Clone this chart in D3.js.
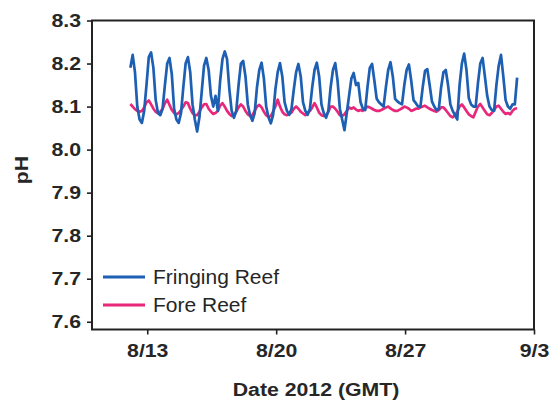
<!DOCTYPE html>
<html>
<head>
<meta charset="utf-8">
<script src="https://cdn.jsdelivr.net/npm/d3@7"></script>
<style>
  body { margin: 0; background: #fff; }
  text { font-family: "Liberation Sans", Arial, Helvetica, sans-serif; fill: #262626; }
</style>
</head>
<body>
<div id="chart"></div>
<script>
// pH readings, one every 3 hours from 8/12 02:00 GMT (8 per day, 02h..23h)
const sampleStart = '2012-08-12T02:00:00Z';
const sampleStepHours = 3;

const fringingReef = [
  8.190, 8.220, 8.180, 8.100, 8.070, 8.062, 8.090, 8.150, // 8/12
  8.215, 8.226, 8.190, 8.115, 8.085, 8.080, 8.095, 8.150, // 8/13
  8.200, 8.213, 8.175, 8.095, 8.070, 8.062, 8.085, 8.145, // 8/14
  8.200, 8.215, 8.180, 8.105, 8.070, 8.042, 8.075, 8.135, // 8/15
  8.195, 8.213, 8.185, 8.125, 8.100, 8.125, 8.090, 8.160, // 8/16
  8.210, 8.228, 8.210, 8.140, 8.090, 8.074, 8.090, 8.150, // 8/17
  8.200, 8.206, 8.170, 8.105, 8.080, 8.067, 8.085, 8.145, // 8/18
  8.185, 8.202, 8.165, 8.100, 8.075, 8.061, 8.080, 8.140, // 8/19
  8.180, 8.201, 8.170, 8.110, 8.090, 8.081, 8.095, 8.140, // 8/20
  8.180, 8.199, 8.170, 8.110, 8.090, 8.081, 8.095, 8.145, // 8/21
  8.185, 8.202, 8.170, 8.105, 8.085, 8.074, 8.090, 8.145, // 8/22
  8.185, 8.201, 8.160, 8.095, 8.070, 8.045, 8.085, 8.125, // 8/23
  8.165, 8.178, 8.150, 8.155, 8.110, 8.095, 8.092, 8.145, // 8/24
  8.190, 8.199, 8.160, 8.118, 8.110, 8.105, 8.100, 8.145, // 8/25
  8.185, 8.203, 8.170, 8.118, 8.112, 8.108, 8.105, 8.150, // 8/26
  8.185, 8.198, 8.160, 8.115, 8.108, 8.100, 8.100, 8.145, // 8/27
  8.183, 8.187, 8.150, 8.112, 8.100, 8.092, 8.095, 8.145, // 8/28
  8.180, 8.185, 8.150, 8.105, 8.090, 8.080, 8.070, 8.150, // 8/29
  8.200, 8.223, 8.185, 8.120, 8.105, 8.100, 8.100, 8.155, // 8/30
  8.200, 8.213, 8.170, 8.125, 8.100, 8.092, 8.090, 8.150, // 8/31
  8.195, 8.220, 8.170, 8.115, 8.100, 8.095, 8.105, 8.105, // 9/1
  8.167                                                   // 9/2
];

const foreReef = [
  8.106, 8.100, 8.094, 8.090, 8.088, 8.090, 8.098, 8.110, // 8/12
  8.114, 8.105, 8.095, 8.088, 8.085, 8.088, 8.095, 8.108, // 8/13
  8.116, 8.104, 8.092, 8.085, 8.082, 8.085, 8.092, 8.100, // 8/14
  8.110, 8.108, 8.095, 8.085, 8.080, 8.080, 8.088, 8.098, // 8/15
  8.105, 8.106, 8.095, 8.088, 8.083, 8.085, 8.090, 8.102, // 8/16
  8.108, 8.100, 8.090, 8.083, 8.078, 8.080, 8.088, 8.098, // 8/17
  8.105, 8.100, 8.090, 8.082, 8.078, 8.080, 8.090, 8.100, // 8/18
  8.104, 8.098, 8.088, 8.080, 8.076, 8.078, 8.088, 8.100, // 8/19
  8.116, 8.100, 8.088, 8.082, 8.080, 8.083, 8.086, 8.095, // 8/20
  8.100, 8.095, 8.088, 8.084, 8.080, 8.085, 8.090, 8.098, // 8/21
  8.108, 8.098, 8.086, 8.080, 8.078, 8.080, 8.088, 8.100, // 8/22
  8.100, 8.095, 8.088, 8.080, 8.078, 8.082, 8.090, 8.098, // 8/23
  8.095, 8.098, 8.093, 8.090, 8.092, 8.090, 8.095, 8.100, // 8/24
  8.098, 8.095, 8.092, 8.090, 8.090, 8.092, 8.095, 8.098, // 8/25
  8.100, 8.096, 8.092, 8.090, 8.090, 8.093, 8.096, 8.100, // 8/26
  8.098, 8.095, 8.090, 8.092, 8.095, 8.095, 8.098, 8.100, // 8/27
  8.102, 8.098, 8.095, 8.092, 8.090, 8.088, 8.092, 8.098, // 8/28
  8.098, 8.092, 8.085, 8.078, 8.075, 8.080, 8.088, 8.100, // 8/29
  8.105, 8.098, 8.090, 8.082, 8.078, 8.075, 8.088, 8.100, // 8/30
  8.106, 8.098, 8.090, 8.082, 8.080, 8.085, 8.092, 8.100, // 8/31
  8.102, 8.095, 8.088, 8.083, 8.085, 8.082, 8.090, 8.095, // 9/1
  8.096                                                   // 9/2
];

const seriesNames = ['Fringing Reef', 'Fore Reef'];
const seriesColors = ['#1d5fb3', '#e8297b'];
const yTickValues = [7.6, 7.7, 7.8, 7.9, 8.0, 8.1, 8.2, 8.3];
const xTickDates = ['2012-08-13', '2012-08-20', '2012-08-27', '2012-09-03'];
const xDomain = ['2012-08-10', '2012-09-03'];
const yDomain = [7.582, 8.3];

const width = 555;
const height = 406;
const margin = { top: 20.5, right: 21, bottom: 76.5, left: 92 };
const stretch = 1.12; // text in the source figure is slightly wide

const svg = d3.select('#chart').append('svg')
  .attr('width', width)
  .attr('height', height);

const x = d3.scaleUtc()
  .domain(xDomain.map(d => new Date(d + 'T00:00:00Z')))
  .range([margin.left, width - margin.right]);

const y = d3.scaleLinear()
  .domain(yDomain)
  .range([height - margin.bottom, margin.top]);

function toPoints(values) {
  const t0 = new Date(sampleStart).getTime();
  return values.map((v, i) => ({ date: new Date(t0 + i * sampleStepHours * 3600e3), value: v }));
}

const series = [fringingReef, foreReef].map((vals, i) => ({
  name: seriesNames[i],
  color: seriesColors[i],
  points: toPoints(vals),
}));

// Axes
const xAxis = d3.axisBottom(x)
  .tickValues(xTickDates.map(d => new Date(d + 'T00:00:00Z')))
  .tickFormat(d3.utcFormat('%-m/%-d'))
  .tickSize(5)
  .tickSizeOuter(0)
  .tickPadding(9);

const yAxis = d3.axisLeft(y)
  .tickValues(yTickValues)
  .tickFormat(d3.format('.1f'))
  .tickSize(5)
  .tickSizeOuter(0)
  .tickPadding(6);

const gx = svg.append('g')
  .attr('transform', `translate(0, ${height - margin.bottom})`)
  .call(xAxis);

const gy = svg.append('g')
  .attr('transform', `translate(${margin.left}, 0)`)
  .call(yAxis);

[gx, gy].forEach(g => {
  g.select('.domain').remove();
  g.selectAll('.tick line').attr('stroke', '#222').attr('stroke-width', 1.6);
  g.selectAll('.tick text')
    .attr('font-size', 19)
    .attr('font-weight', 'bold')
    .style('font-family', '"Liberation Sans", Arial, sans-serif')
    .attr('fill', '#262626');
});

// stretch tick labels horizontally around their anchor
gx.selectAll('.tick text').each(function () {
  const t = d3.select(this);
  t.attr('transform', `translate(0, ${t.attr('y')}) scale(${stretch}, 1)`).attr('y', 0)
    .attr('dy', '0.71em');
});
gy.selectAll('.tick text').each(function () {
  const t = d3.select(this);
  t.attr('transform', `translate(${t.attr('x')}, 0) scale(${stretch}, 1)`).attr('x', 0);
});

// Lines
const line = d3.line()
  .x(d => x(d.date))
  .y(d => y(d.value));

svg.append('g')
  .selectAll('path')
  .data(series.slice().reverse())
  .join('path')
  .attr('fill', 'none')
  .attr('stroke', d => d.color)
  .attr('stroke-width', 2.7)
  .attr('stroke-linejoin', 'round')
  .attr('d', d => line(d.points));

// Frame
svg.append('rect')
  .attr('x', margin.left)
  .attr('y', margin.top)
  .attr('width', width - margin.left - margin.right)
  .attr('height', height - margin.top - margin.bottom)
  .attr('fill', 'none')
  .attr('stroke', '#222')
  .attr('stroke-width', 2);

// Axis titles
svg.append('text')
  .attr('transform', `translate(${(margin.left + width - margin.right) / 2 + 3}, 396) scale(${stretch}, 1)`)
  .attr('text-anchor', 'middle')
  .attr('font-size', 19)
  .attr('font-weight', 'bold')
  .text('Date 2012 (GMT)');

svg.append('text')
  .attr('transform', `translate(28, 170) rotate(-90) scale(${stretch}, 1)`)
  .attr('text-anchor', 'middle')
  .attr('font-size', 19)
  .attr('font-weight', 'bold')
  .text('pH');

// Legend
const legend = svg.append('g')
  .selectAll('g')
  .data(series)
  .join('g')
  .attr('transform', (d, i) => `translate(103, ${277 + i * 28})`);

legend.append('line')
  .attr('x1', 0)
  .attr('x2', 42)
  .attr('stroke', d => d.color)
  .attr('stroke-width', 3);

legend.append('text')
  .attr('transform', `translate(50, 0) scale(1.05, 1)`)
  .attr('dy', '0.36em')
  .attr('font-size', 20)
  .text(d => d.name);
</script>
</body>
</html>
